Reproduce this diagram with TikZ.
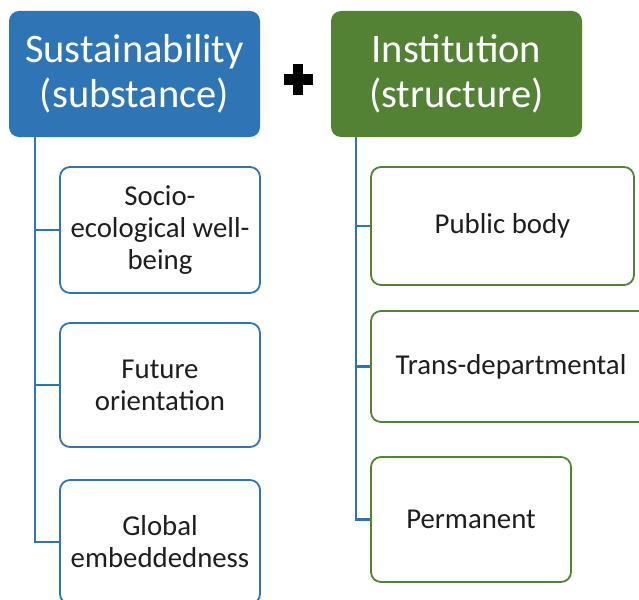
\documentclass[tikz,border=0pt]{standalone}
\usepackage{fontspec}
\setmainfont{Carlito}
\usepackage{xcolor}
\definecolor{sblue}{RGB}{46,117,182}
\definecolor{igreen}{RGB}{84,130,53}
\definecolor{txtdark}{RGB}{30,30,30}
\tikzset{
  hdr/.style = {align=center, inner sep=0pt, rounded corners=10pt,
    text=white, minimum width=251pt, minimum height=126pt,
    font=\fontsize{40.5}{45}\selectfont},
  hdr_b/.style = {hdr, fill=sblue},% header, blue
  hdr_g/.style = {hdr, fill=igreen},% header, green
  box/.style = {align=center, inner sep=0pt, rounded corners=10pt,
    fill=white, text=txtdark, line width=1.8pt,
    font=\fontsize{28.8}{32}\selectfont},
  box_b/.style = {box, draw=sblue},% item, blue border
  box_g/.style = {box, draw=igreen},% item, green border
  link/.style = {draw=sblue, line width=2.2pt}
}
\begin{document}
\begin{tikzpicture}[x=1pt, y=-1pt]
\useasboundingbox (0,0) rectangle (639,599);

\node[hdr_b] (s0) at (134.5,74) {Sustainability\\(substance)};
\node[hdr_g] (i0) at (456.5,74) {Institution\\(structure)};

\node[box_b, minimum width=200pt, minimum height=126pt] (s1) at (160,230) {Socio-\\ecological well-\\being};
\node[box_b, minimum width=200pt, minimum height=124pt] (s2) at (160,385) {Future\\orientation};
\node[box_b, minimum width=200pt, minimum height=124pt] (s3) at (160,542) {Global\\embeddedness};

\node[box_g, minimum width=263pt, minimum height=118pt] (i1) at (502.5,226) {Public body};
\node[box_g, minimum width=280pt, minimum height=111pt] (i2) at (511,366.5) {Trans-departmental};
\node[box_g, minimum width=200pt, minimum height=125pt] (i3) at (471,519.5) {Permanent};

% plus sign
\fill[black] (284,74) rectangle (313,85);
\fill[black] (293,64) rectangle (303,95);

\coordinate (sl) at (35,137);
\coordinate (il) at (356,137);
\draw[link] (sl) |- (s1.west);
\draw[link] (sl) |- (s2.west);
\draw[link] (sl) |- (s3.west);
\draw[link] (il) |- (i1.west);
\draw[link] (il) |- (i2.west);
\draw[link] (il) |- (i3.west);
\end{tikzpicture}
\end{document}
